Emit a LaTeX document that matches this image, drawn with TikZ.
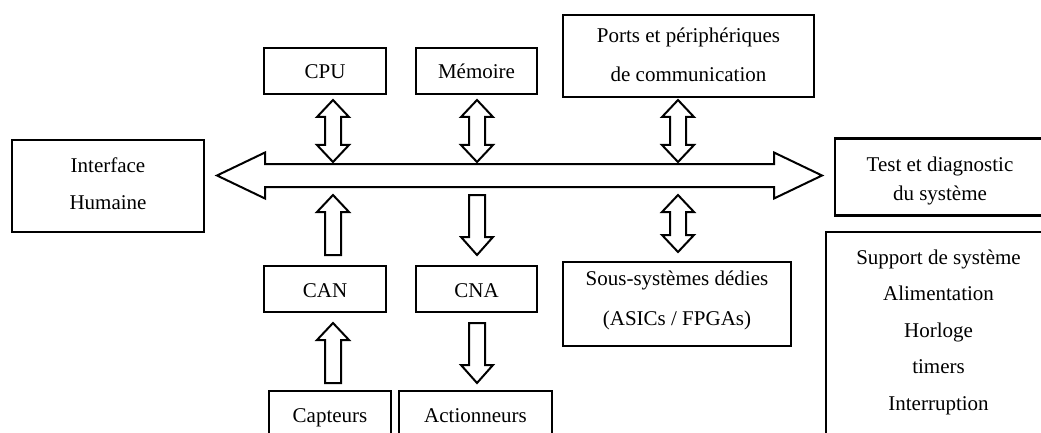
\documentclass[tikz,border=0pt]{standalone}
\usepackage{fontspec}
\setmainfont{Liberation Serif}
\usetikzlibrary{calc}

% struts fixing the height of the first and the depth of the last line
\newcommand{\topst}[1][15pt]{\rule{0pt}{#1}}
\newcommand{\botst}[1][5pt]{\rule[-#1]{0pt}{#1}}

% hollow arrows: vertical double, up, down, and horizontal double
\newcommand{\vdbl}[2]{%
  \draw[hollow] let \p1=#1, \p2=#2 in
    (\x1,\y1) -- ++(16pt,-17pt) -- ++(-8pt,0pt) -- (\x1+8pt,\y2+17pt)
    -- ++(8pt,0pt) -- (\x1,\y2) -- ++(-16pt,17pt) -- ++(8pt,0pt)
    -- (\x1-8pt,\y1-17pt) -- ++(-8pt,0pt) -- cycle;}
\newcommand{\vup}[2]{%
  \draw[hollow] let \p1=#1, \p2=#2 in
    (\x1,\y1) -- ++(16pt,-17pt) -- ++(-8pt,0pt) -- (\x1+8pt,\y2)
    -- (\x1-8pt,\y2) -- (\x1-8pt,\y1-17pt) -- ++(-8pt,0pt) -- cycle;}
\newcommand{\vdown}[2]{%
  \draw[hollow] let \p1=#1, \p2=#2 in
    (\x1-8pt,\y1) -- (\x1+8pt,\y1) -- (\x1+8pt,\y2+18pt) -- ++(8pt,0pt)
    -- (\x1,\y2) -- ++(-16pt,18pt) -- ++(8pt,0pt) -- cycle;}
\newcommand{\hdbl}[2]{%
  \draw[hollow] let \p1=#1, \p2=#2 in
    (\x1,\y1) -- ++(48pt,23pt) -- ++(0pt,-11.5pt) -- (\x2-48pt,\y1+11.5pt)
    -- ++(0pt,11.5pt) -- (\x2,\y1) -- ++(-48pt,-23pt) -- ++(0pt,11.5pt)
    -- (\x1+48pt,\y1-11.5pt) -- ++(0pt,-11.5pt) -- cycle;}

\begin{document}
\begin{tikzpicture}[x=1pt,y=-1pt,
  box/.style={draw, line width=2.3pt, outer sep=0pt, inner xsep=0pt,
    align=center, font=\fontsize{21}{25}\selectfont},
  single/.style={box, anchor=north west, text height=21pt, text depth=5pt,
    inner ysep=10pt},
  hollow/.style={draw, line width=2pt, line join=miter, fill=white}]

\path[use as bounding box] (0,0) rectangle (1041,433);
\fill[white] (0,0) rectangle (1041,433);
\clip (0,0) rectangle (1041,433);

% blocks
\node[single, minimum width=122pt] (cpu) at (264,48) {CPU};
\node[single, minimum width=121pt] (mem) at (416,48) {Mémoire};
\node[box, minimum width=251pt, minimum height=82pt,
  font=\fontsize{21}{39}\selectfont] (ports) at (688.5,56)
  {\topst[18pt]Ports et périphériques\\de communication\botst};
\node[box, minimum width=192pt, minimum height=92pt,
  font=\fontsize{21}{37}\selectfont] (iface) at (108,186)
  {\topst Interface\\Humaine\botst};
\node[box, minimum width=210pt, minimum height=77pt,
  font=\fontsize{21}{28.5}\selectfont] (test) at (940,177)
  {\topst[23pt]Test et diagnostic\\du système\botst};
\node[single, minimum width=122pt] (can) at (264,266) {CAN};
\node[single, minimum width=121pt] (cna) at (416,266) {CNA};
\node[box, minimum width=228pt, minimum height=84pt,
  font=\fontsize{21}{40}\selectfont] (sous) at (677,304)
  {\topst Sous-systèmes dédies\\(ASICs / FPGAs)\botst[13pt]};
\node[single, text depth=30pt, minimum width=122pt] (capt) at (269,391) {Capteurs};
\node[single, text depth=30pt, minimum width=153pt] (act) at (399,391) {Actionneurs};
\node[box, anchor=north, minimum width=225pt, inner ysep=17pt,
  font=\fontsize{21}{36.5}\selectfont] (supp) at (938.5,232)
  {\topst Support de système\\Alimentation\\Horloge\\timers\\Interruption\rule[-40pt]{0pt}{0pt}};

% system bus
\coordinate (busL) at (217,175.5);
\coordinate (busR) at (822,175.5);
\coordinate (busT) at (0,163.5);
\coordinate (busB) at (0,187.5);
\hdbl{(busL)}{(busR)}

% links to the bus
\vdbl{($(cpu.south)+(8,6)$)}{($(cpu.south |- busT)+(8,-1.5)$)}
\vdbl{($(mem.south)+(0.5,6)$)}{($(mem.south |- busT)+(0.5,-1.5)$)}
\vdbl{($(ports.south)+(-10.5,3)$)}{($(ports.south |- busT)+(-10.5,-1.5)$)}
\vup{($(can.north |- busB)+(8,7.5)$)}{($(can.north)+(8,-11)$)}
\vdown{($(cna.north |- busB)+(0.5,7.5)$)}{($(cna.north)+(0.5,-11)$)}
\vdbl{($(sous.north |- busB)+(1,7.5)$)}{($(sous.north)+(1,-10)$)}

% sensors and actuators
\vup{($(can.south)+(8,11)$)}{($(capt.north -| can.south)+(8,-8)$)}
\vdown{($(cna.south)+(0.5,11)$)}{($(act.north -| cna.south)+(0.5,-8)$)}

\end{tikzpicture}
\end{document}
